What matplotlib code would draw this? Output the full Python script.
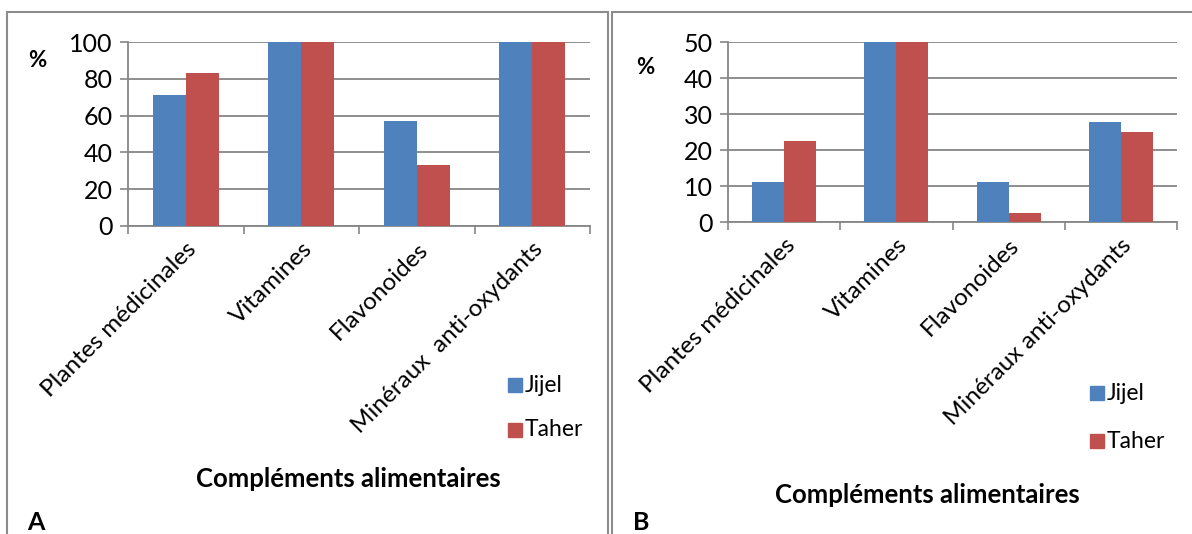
import matplotlib.pyplot as plt
import matplotlib.transforms as mtransforms
import numpy as np
from matplotlib.patches import Rectangle

plt.rcParams['font.family'] = ['Lato', 'DejaVu Sans']

categories_a = ['Plantes médicinales', 'Vitamines', 'Flavonoides', 'Minéraux  anti-oxydants']
categories_b = ['Plantes médicinales', 'Vitamines', 'Flavonoides', 'Minéraux anti-oxydants']
jijel_a = [71.4, 100, 57.1, 100]
taher_a = [83.3, 100, 33.3, 100]
jijel_b = [11.1, 50, 11.1, 27.8]
taher_b = [22.5, 50, 2.5, 25.0]
yticks_a = [0, 20, 40, 60, 80, 100]
yticks_b = [0, 10, 20, 30, 40, 50]

BLUE = '#4F81BD'
RED = '#C0504D'
GRID = '#868686'

W, H = 1192, 534
fig = plt.figure(figsize=(W / 100, H / 100), dpi=100)


def px(x0, y0, x1, y1):
    # pixel box (top-left origin) -> figure rect
    return [x0 / W, 1 - y1 / H, (x1 - x0) / W, (y1 - y0) / H]


def panel(rect, cats, jv, tv, yticks, pct_xy, leg_xy, xlab_xy, letter_xy, letter):
    ax = fig.add_axes(rect)
    x = np.arange(len(cats))
    bw = 1 / 3.5
    ax.bar(x - bw / 2, jv, bw, color=BLUE, label='Jijel', zorder=3)
    ax.bar(x + bw / 2, tv, bw, color=RED, label='Taher', zorder=3)
    ax.set_xlim(-0.5, len(cats) - 0.5)
    ax.set_ylim(0, yticks[-1])
    ax.set_yticks(yticks)
    ax.set_yticklabels([str(v) for v in yticks], fontsize=18)
    ax.set_xticks(np.arange(len(cats) + 1) - 0.5)
    ax.set_xticklabels([])
    ax.set_xticks(x, minor=True)
    labs = ax.set_xticklabels(cats, minor=True, rotation=45, ha='right', va='top',
                              rotation_mode='anchor', fontsize=17.5)
    # nudge labels down-left like the Excel layout
    shift = mtransforms.ScaledTranslation(-17 / 100, -13 / 100, fig.dpi_scale_trans)
    for t in labs:
        t.set_transform(t.get_transform() + shift)
    ax.tick_params(axis='x', which='minor', length=0, pad=9)
    ax.tick_params(axis='both', which='major', length=6, width=1.2, color=GRID)
    ax.tick_params(axis='y', pad=5)
    ax.grid(axis='y', color=GRID, linewidth=1.3, zorder=0)
    for s in ['top', 'right']:
        ax.spines[s].set_visible(False)
    for s in ['left', 'bottom']:
        ax.spines[s].set_color(GRID)
        ax.spines[s].set_linewidth(1.3)
    fig.text(pct_xy[0] / W, 1 - pct_xy[1] / H, '%', fontsize=16, fontweight='bold',
             ha='center', va='center')
    for i, (lab, col) in enumerate([('Jijel', BLUE), ('Taher', RED)]):
        lx, ly = leg_xy[0], leg_xy[1] + i * leg_xy[2]
        fig.patches.append(Rectangle((lx / W, 1 - (ly + 7) / H), 14 / W, 14 / H,
                                     color=col, transform=fig.transFigure))
        fig.text((lx + 17) / W, 1 - ly / H, lab, fontsize=16.5, ha='left', va='center')
    fig.text(xlab_xy[0] / W, 1 - xlab_xy[1] / H, 'Compléments alimentaires',
             fontsize=18.5, fontweight='bold', ha='center', va='center')
    fig.text(letter_xy[0] / W, 1 - letter_xy[1] / H, letter, fontsize=18,
             fontweight='bold', ha='center', va='bottom')
    return ax


panel(px(128, 42, 590, 226), categories_a, jijel_a, taher_a, yticks_a,
      (37, 61), (508, 385, 45), (348, 479), (36, 534), 'A')
panel(px(728, 42, 1177, 222), categories_b, jijel_b, taher_b, yticks_b,
      (645, 67), (1090, 393, 48), (927, 495), (641, 534), 'B')

# panel borders
BORDER = '#8C8C8C'
for (x0, x1) in [(7, 608), (612, 1240)]:
    fig.patches.append(Rectangle((x0 / W, -0.1), (x1 - x0) / W, 1 - 12.5 / H + 0.1,
                                 fill=False, edgecolor=BORDER, linewidth=1.5,
                                 transform=fig.transFigure))

fig.savefig('out.png', dpi=100)
